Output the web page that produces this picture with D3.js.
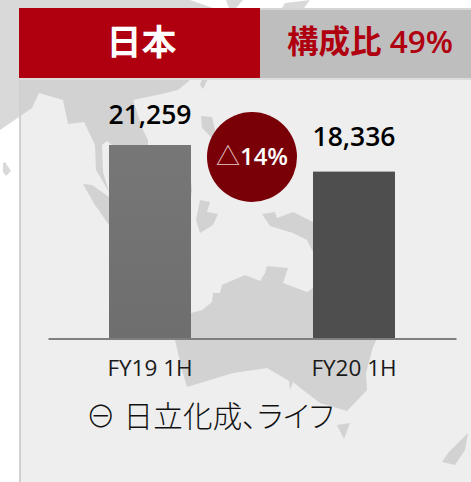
<!DOCTYPE html>
<html><head><meta charset="utf-8">
<script src="https://cdn.jsdelivr.net/npm/d3@7"></script>
<style>
html,body{margin:0;padding:0;background:#fff;overflow:hidden}
svg{display:block}
text{font-family:"Open Sans","Noto Sans CJK JP",sans-serif}
</style></head><body>
<script>
const categories = ["FY19 1H", "FY20 1H"];
const salesValues = [21259, 18336];
const valueLabels = ["21,259", "18,336"];
const regionTitle = "日本";
const shareLabel = "構成比 49%";
const changeLabel = ["△", "14%"];
const noteLabel = "⊖ 日立化成、ライフ";

const W = 471, H = 482;
const land = [
 "M0,0L190,0L213,8L207,78L190,80L178,90L157,95L133,100L143,130L148,140L148,145L112,145L107,141L102,145L103,172L109,192L96,170L95,145L84,122L68,124L63,100L39,93L32,108L19,117L0,130Z",
 "M226,0L243,0L236,8L229,8Z","M282,8L285,3L310,0L304,8Z",
 "M3,163L5,162L11,171L6,176L3,172Z",
 "M202,79L208,79L203,89L200,85Z",
 "M201,116L212,117L215,130L212,138L202,128Z",
 "M83,184L92,185L109,197L109,225L95,205Z",
 "M191,181L192,190L191,197Z",
 "M200,200L210,202L207,212L218,214L213,225L200,233L196,220Z",
 "M262,214L275,212L277,218L293,212L313,222L313,252L307,240L293,233L270,226Z",
 "M191,313L202,310L212,302L213,293L220,293L222,285L245,275L260,281L265,273L267,266L288,268L283,283L307,292L313,288L395,300L373,347L366,373L367,390L347,411L320,403L303,390L293,382L290,390L289,381L267,368L233,373L187,387L182,370L175,340Z",
 "M337,425L350,423L344,439Z",
 "M468,433L465,450L455,465L442,462L448,453Z"
];

const svg = d3.select("body").append("svg").attr("width", W).attr("height", H);
const defs = svg.append("defs");
defs.append("clipPath").attr("id", "panel").append("rect")
  .attr("x", 19).attr("y", 78).attr("width", W - 19).attr("height", H - 78);
const grad = defs.append("linearGradient").attr("id", "barA")
  .attr("x1", 0).attr("y1", 0).attr("x2", 0).attr("y2", 1);
grad.append("stop").attr("offset", 0).attr("stop-color", "#777777");
grad.append("stop").attr("offset", 1).attr("stop-color", "#6e6e6e");

svg.append("g").selectAll("path").data(land).join("path").attr("d", d => d).attr("fill", "#d9d9d9");
svg.append("rect").attr("x", 19).attr("y", 78).attr("width", W - 19).attr("height", H - 78).attr("fill", "#eeeeee");
svg.append("g").attr("clip-path", "url(#panel)").selectAll("path").data(land).join("path").attr("d", d => d).attr("fill", "#d2d2d2");
svg.append("rect").attr("x", 19).attr("y", 78).attr("width", 2).attr("height", H - 78).attr("fill", "#d0d0d0");

// header
svg.append("rect").attr("x", 260).attr("y", 8).attr("width", W - 260).attr("height", 70).attr("fill", "#bebebe");
svg.append("rect").attr("x", 260).attr("y", 8).attr("width", W - 260).attr("height", 2).attr("fill", "#d6d6d6");
svg.append("rect").attr("x", 19).attr("y", 78).attr("width", W - 19).attr("height", 2).attr("fill", "#dcdcdc");
svg.append("rect").attr("x", 19).attr("y", 8).attr("width", 241).attr("height", 70).attr("fill", "#b0000f");
svg.append("text").attr("x", 141.5).attr("y", 55).attr("text-anchor", "middle")
  .attr("font-size", 35).attr("font-weight", 700).attr("fill", "#fff").text(regionTitle);
svg.append("text").attr("x", 370).attr("y", 53).attr("text-anchor", "middle")
  .attr("font-size", 31.5).attr("font-weight", 600).attr("fill", "#b0000f").text(shareLabel);

// chart
const x = d3.scaleBand().domain(categories).range([48, 456]).paddingInner(0.598).paddingOuter(0.299);
const y = d3.scaleLinear().domain([0, d3.max(salesValues)]).range([338.5, 145]);
const fills = ["url(#barA)", "#4e4e4e"];

svg.append("g").selectAll("rect").data(salesValues).join("rect")
  .attr("x", (d, i) => x(categories[i])).attr("width", x.bandwidth())
  .attr("y", d => y(d)).attr("height", d => y(0) - y(d))
  .attr("fill", (d, i) => fills[i]);

const axis = svg.append("g").attr("transform", `translate(0,${y(0)})`)
  .call(d3.axisBottom(x).tickSize(0).tickPadding(0));
axis.select(".domain").attr("stroke", "#7f7f7f").attr("stroke-width", 2);
axis.selectAll("text").attr("font-size", 22.5).attr("fill", "#1a1a1a").attr("dy", 0).attr("y", 37)
  .style("font-family", '"Open Sans","Noto Sans CJK JP",sans-serif');

const labelGap = [21, 26];
svg.append("g").selectAll("text").data(salesValues).join("text")
  .attr("x", (d, i) => x(categories[i]) + x.bandwidth() / 2)
  .attr("y", (d, i) => y(d) - labelGap[i]).attr("text-anchor", "middle")
  .attr("font-size", 26.5).attr("font-weight", 600).attr("fill", "#000")
  .text((d, i) => valueLabels[i]);

// change bubble
svg.append("circle").attr("cx", 252).attr("cy", 157).attr("r", 45).attr("fill", "#7a0008");
const ch = svg.append("text").attr("x", 252).attr("y", 165).attr("text-anchor", "middle").attr("fill", "#fff");
ch.append("tspan").attr("font-size", 24).attr("font-weight", 300).attr("fill", "#e6c8c8").text(changeLabel[0]);
ch.append("tspan").attr("font-size", 24).attr("font-weight", 600).text(changeLabel[1]);

// note
svg.append("text").attr("x", 86).attr("y", 427).attr("font-size", 29.5).attr("font-weight", 300).attr("fill", "#111")
  .attr("letter-spacing", 0.2)
  .style("font-feature-settings", '"palt"').text(noteLabel);
</script>
</body></html>
